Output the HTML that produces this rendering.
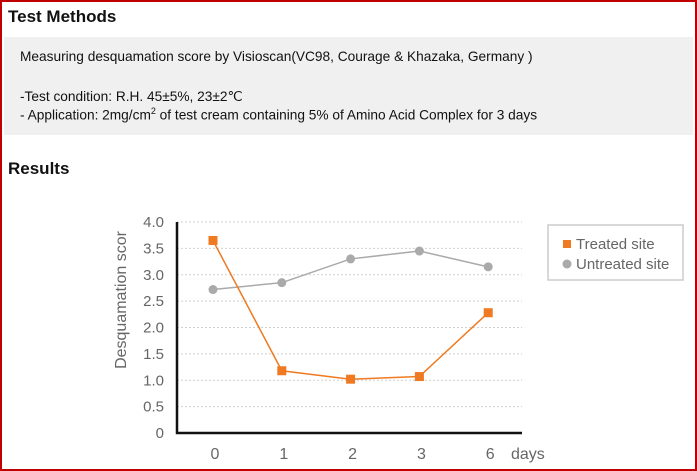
<!DOCTYPE html>
<html><head><meta charset="utf-8"><style>
body{margin:0;width:697px;height:471px;overflow:hidden;background:#fff;font-family:"Liberation Sans",Arial,sans-serif}
#frame{position:absolute;left:0;top:0;width:693px;height:467px;border:2px solid #c00000}
h2{position:absolute;margin:0;font-size:17px;font-weight:bold;color:#111}
#box{position:absolute;left:4px;top:37px;width:689px;height:98px;background:#f0f0f0;font-size:13.7px;color:#111}
#box p{position:absolute;left:16px;margin:0;white-space:nowrap}
</style></head><body>
<div id="frame"></div>
<h2 style="left:8px;top:7px">Test Methods</h2>
<div id="box">
<p style="top:12px">Measuring desquamation score by Visioscan(VC98, Courage &amp; Khazaka, Germany )</p>
<p style="top:52px">-Test condition: R.H. 45±5%, 23±2℃</p>
<p style="top:69px">- Application: 2mg/cm<sup style="font-size:9px">2</sup> of test cream containing 5% of Amino Acid Complex for 3 days</p>
</div>
<h2 style="left:8px;top:159px">Results</h2>
<svg id="chart" width="697" height="471" style="position:absolute;left:0;top:0"></svg>
<script>
const categories=["0","1","2","3","6"];
const treated=[3.65,1.18,1.02,1.07,2.28];
const untreated=[2.72,2.85,3.3,3.45,3.15];
const yTicks=[0,0.5,1.0,1.5,2.0,2.5,3.0,3.5,4.0];
const yTickLabels=["0","0.5","1.0","1.5","2.0","2.5","3.0","3.5","4.0"];
const svg=document.getElementById('chart');const NS="http://www.w3.org/2000/svg";
const x0=177,x1=522,yTop=222,yBot=433;
const yS=v=>yBot-(v/4)*(yBot-yTop);
const xS=i=>213+i*68.8;
function mk(t,a,p){const e=document.createElementNS(NS,t);for(const k in a)e.setAttribute(k,a[k]);(p||svg).appendChild(e);return e;}
yTicks.forEach((v,i)=>{
 if(v>0){const g=mk('line',{x1:x0,x2:x1,y1:yS(v),y2:yS(v),stroke:'#d0d0d0','stroke-dasharray':'2,2'});
 
 }
 const t=mk('text',{x:x0-13,y:yS(v)+5,'text-anchor':'end','font-size':15,fill:'#666'});t.textContent=yTickLabels[i];
 
 
});
const ax=mk('path',{d:`M${x0} ${yTop} V${yBot} H${x1}`,stroke:'#111','stroke-width':2.5,fill:'none'});


categories.forEach((c,i)=>{const t=mk('text',{x:xS(i)+2,y:459,'text-anchor':'middle','font-size':16,fill:'#666'});t.textContent=c;
 
 });
const dl=mk('text',{x:511,y:459,'font-size':16,fill:'#666'});dl.textContent='days';


const yt=mk('text',{x:0,y:0,'font-size':16,fill:'#666','text-anchor':'middle',transform:'translate(126,300) rotate(-90)'});yt.textContent='Desquamation scor';


const pu=mk('polyline',{points:untreated.map((v,i)=>xS(i)+','+yS(v)).join(' '),fill:'none',stroke:'#aaa','stroke-width':1.5});


untreated.forEach((v,i)=>{const c=mk('circle',{cx:xS(i),cy:yS(v),r:4.5,fill:'#aaa'});
 
 });
const pt=mk('polyline',{points:treated.map((v,i)=>xS(i)+','+yS(v)).join(' '),fill:'none',stroke:'#ef7a22','stroke-width':1.5});


treated.forEach((v,i)=>{const r=mk('rect',{x:xS(i)-4.5,y:yS(v)-4.5,width:9,height:9,fill:'#ef7a22'});
 
 });
const lg=mk('rect',{x:548,y:225,width:135,height:55,fill:'#fff',stroke:'#ccc','stroke-width':1.5});


const ls=mk('rect',{x:563,y:240,width:8,height:8,fill:'#ef7a22'});


const lt=mk('text',{x:576,y:249,'font-size':15,fill:'#666'});lt.textContent='Treated site';


const lc=mk('circle',{cx:567,cy:264,r:4.5,fill:'#aaa'});


const lu=mk('text',{x:576,y:269,'font-size':15,fill:'#666'});lu.textContent='Untreated site';


</script>
</body></html>
